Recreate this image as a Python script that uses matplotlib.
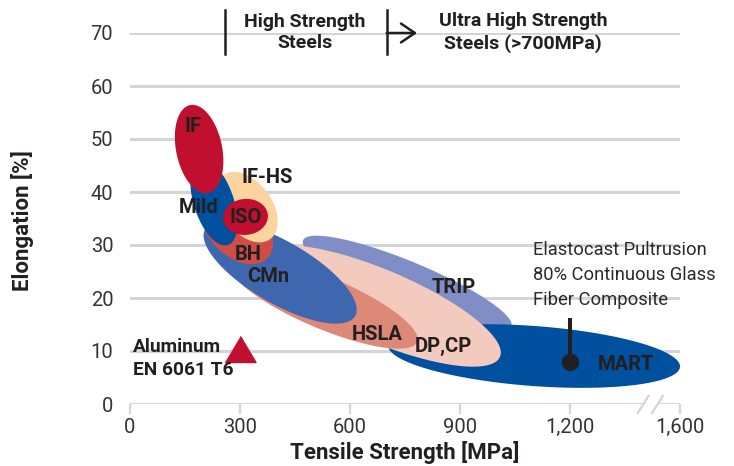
import numpy as np
import matplotlib
matplotlib.use('Agg')
import matplotlib.pyplot as plt
from matplotlib.patches import Polygon

# steel grade bands: long-axis end points (tensile MPa, elongation %)
grades = ['TRIP', 'MART', 'DP,CP', 'HSLA', 'CMn', 'BH', 'IF-HS', 'Mild', 'ISO', 'IF']
tip_start = [(472, 30.9), (704, 11.1), (355, 28.1), (273, 26.6), (205, 33.0),
             (210, 38.9), (256, 43.2), (191, 46.0), (254, 34.9), (164, 56.4)]
tip_end = [(1040, 14.6), (1500, 7.0), (1009, 8.9), (783, 11.7), (614, 16.6),
           (374, 27.5), (382, 31.1), (267, 30.0), (376, 35.7), (213, 39.8)]
spread_px = [22, 30, 36, 26, 31, 28, 25, 20, 18, 23]
grade_colors = ['#7F8EC6', '#0050A0', '#F3CBBE', '#DE8878', '#3F67AF',
                '#D24C47', '#FBD49E', '#0050A0', '#C1102F', '#C1102F']
label_x = [884, 1353, 856, 674, 376, 322, 374, 186, 316, 172]
label_y = [21.9, 7.4, 10.8, 13.2, 24.0, 28.3, 42.8, 37.0, 35.1, 52.3]

aluminum = (300, 10.4)
composite = (1200, 8.0)

x_ticks = [0, 300, 600, 900, 1200, 1500]
x_ticklabels = ['0', '300', '600', '900', '1,200', '1,600']
y_ticks = [0, 10, 20, 30, 40, 50, 60, 70]

DARK = '#231F20'
GRID = '#D4D4D4'
ROBOTO = ['Roboto', 'DejaVu Sans']

fig = plt.figure(figsize=(7.34, 4.66), dpi=100)
ax = fig.add_axes([130/734, 62/466, 550/734, 371/466])
ax.set_xlim(0, 1500)
ax.set_ylim(0, 70)
for s in ax.spines.values():
    s.set_visible(False)

ax.set_yticks(y_ticks)
ax.set_xticks(x_ticks)
ax.set_xticklabels(x_ticklabels)
ax.grid(axis='y', color=GRID, lw=2.2, zorder=0)
ax.set_axisbelow(True)
ax.tick_params(axis='y', length=0, pad=12, labelsize=14.5, labelcolor='#333333')
ax.tick_params(axis='x', length=7, width=1.6, color=GRID, pad=3, labelsize=14.5,
               labelcolor='#333333')
for lab in ax.get_xticklabels() + ax.get_yticklabels():
    lab.set_family(ROBOTO)

# axis break marks
ax.plot([1405, 1435], [0, 0], color='white', lw=3, clip_on=False, zorder=3)
for x0 in [1385, 1424]:
    ax.plot([x0, x0 + 29], [-1.7, 1.5], color=GRID, lw=1.6, clip_on=False, zorder=4)


def draw_band(p0, p1, half, color):
    a0 = ax.transData.transform(p0)
    a1 = ax.transData.transform(p1)
    c = (a0 + a1) / 2
    d = a1 - a0
    a = np.hypot(*d) / 2
    u = d / (2 * a)
    n = np.array([-u[1], u[0]])
    t = np.linspace(0, 2 * np.pi, 240)
    pts = c + np.outer(a * np.cos(t), u) + np.outer(half * np.sin(t), n)
    pts = ax.transData.inverted().transform(pts)
    ax.add_patch(Polygon(pts, closed=True, fc=color, ec='none', zorder=2))


for p0, p1, h, col in zip(tip_start, tip_end, spread_px, grade_colors):
    draw_band(p0, p1, h, col)

for name, lx, ly in zip(grades, label_x, label_y):
    ax.text(lx, ly, name, ha='center', va='center', fontsize=14.5, fontweight='bold',
            family=ROBOTO, color=DARK, zorder=5)

# aluminum point
tri = [(-1, -0.84), (1, -0.84), (0, 0.84)]
ax.plot(*aluminum, marker=tri, ms=22.3, color='#C1102F', ls='none', zorder=5)
ax.text(8, 8.6, 'Aluminum\nEN 6061 T6', ha='left', va='center', fontsize=13.8,
        fontweight='bold', family=ROBOTO, color=DARK, linespacing=1.4, zorder=5)

# composite pin
ax.plot([composite[0], composite[0]], [composite[1], 16.2], color=DARK, lw=2.9,
        solid_capstyle='butt', zorder=5)
ax.plot(*composite, 'o', ms=11.5, color=DARK, zorder=6)
ax.text(1099, 24.3, 'Elastocast Pultrusion\n80% Continuous Glass\nFiber Composite',
        ha='left', va='center', fontsize=13.2, family=ROBOTO,
        color='#2A2A2A', linespacing=1.5, zorder=5)

# header with strength classes
for xb in [260, 700]:
    ax.plot([xb, xb], [66.0, 74.3], color=DARK, lw=1.8, clip_on=False, zorder=5)
ax.annotate('', xy=(783, 70), xytext=(700, 70), annotation_clip=False,
            arrowprops=dict(arrowstyle='->,head_length=1.0,head_width=0.68',
                            lw=1.8, color=DARK, shrinkA=0, shrinkB=0))
ax.text(477, 70.1, 'High Strength\nSteels', ha='center', va='center', fontsize=14,
        fontweight='bold', family=ROBOTO, color=DARK, linespacing=1.28)
ax.text(1072, 70.1, 'Ultra High Strength\nSteels (>700MPa)', ha='center', va='center',
        fontsize=14, fontweight='bold', family=ROBOTO, color=DARK, linespacing=1.28)

fig.text(405/734, 1 - 452/466, 'Tensile Strength [MPa]', ha='center', va='center',
         fontsize=16, fontweight='bold', family=ROBOTO, color=DARK)
fig.text(22/734, 1 - 221/466, 'Elongation [%]', ha='center', va='center',
         rotation=90, fontsize=16, fontweight='bold', family=ROBOTO, color=DARK)

fig.savefig('out.png', dpi=100)
